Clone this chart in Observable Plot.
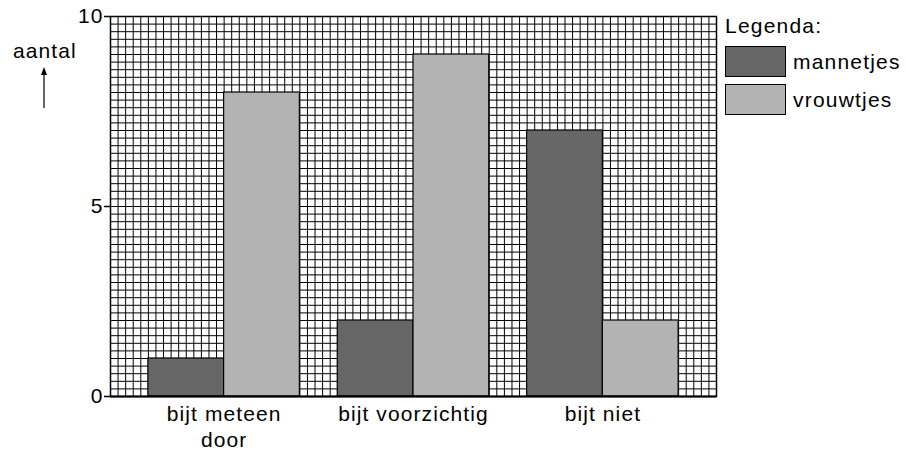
<!DOCTYPE html>
<html>
<head>
<meta charset="utf-8">
<script src="https://cdn.jsdelivr.net/npm/d3@7"></script>
<script src="https://cdn.jsdelivr.net/npm/@observablehq/plot@0.6"></script>
<style>
  html, body { margin: 0; padding: 0; background: #fff; }
  #wrap { position: relative; width: 906px; height: 451px; font-family: "Liberation Sans", Arial, Helvetica, sans-serif; color: #000; }
  #chart { position: absolute; left: 0; top: 0; }
  #chart svg text { letter-spacing: 1.1px; }
  .ylab { position: absolute; left: 13px; top: 40px; font-size: 21px; line-height: 1; letter-spacing: 1.1px; }
  .arrow { position: absolute; left: 38px; top: 66px; }
  .legend { position: absolute; left: 725px; top: 15px; font-size: 21px; letter-spacing: 1.2px; }
  .legend .title { line-height: 1; margin-bottom: 10px; }
  .legend .item { display: flex; align-items: center; height: 31px; margin-bottom: 7px; }
  .legend .sw { width: 59px; height: 29px; border: 1px solid #000; margin-right: 7px; }
</style>
</head>
<body>
<div id="wrap">
  <div id="chart"></div>
  <div class="ylab">aantal</div>
  <svg class="arrow" width="12" height="44"><path d="M6,42 V6" stroke="#000" stroke-width="1.2"/><path d="M3,9 L6,1 L9,9 Z" fill="#000"/></svg>
  <div class="legend" id="legend"></div>
</div>
<script>
const categories = ["bijt meteen door", "bijt voorzichtig", "bijt niet"];
const categoryLabels = ["bijt meteen\ndoor", "bijt voorzichtig", "bijt niet"];
const sexes = ["mannetjes", "vrouwtjes"];
const mannetjes = [1, 2, 7];
const vrouwtjes = [8, 9, 2];
const yTicks = [0, 5, 10];
const legendTitle = "Legenda:";
const colors = ["#666666", "#b3b3b3"];

const gridCellsX = 80;
const gridCellsY = 50;
const yMax = 10;

const series = [mannetjes, vrouwtjes];
const rows = categories.flatMap((c, i) => sexes.map((s, j) => ({category: c, sex: s, value: series[j][i]})));

const outer = d3.scaleBand().domain(categories).range([0, gridCellsX]).paddingInner(0.2).paddingOuter(0.2);
const inner = d3.scaleBand().domain(sexes).range([0, outer.bandwidth()]);
const labelRows = categories.map((c, i) => ({pos: outer(c) + outer.bandwidth() / 2, label: categoryLabels[i]}));

const chart = Plot.plot({
  width: 906,
  height: 451,
  marginLeft: 110,
  marginRight: 190,
  marginTop: 16,
  marginBottom: 55,
  style: {fontFamily: "'Liberation Sans', Arial, Helvetica, sans-serif", background: "#fff", color: "#000", overflow: "visible"},
  x: {domain: [0, gridCellsX], axis: null},
  y: {domain: [0, yMax], axis: null},
  color: {domain: sexes, range: colors},
  marks: [
    Plot.ruleX(d3.range(0, gridCellsX + 1), {stroke: "#000", strokeWidth: 1}),
    Plot.ruleY(d3.range(0, gridCellsY + 1).map(i => i * yMax / gridCellsY), {stroke: "#000", strokeWidth: 1}),
    Plot.rectY(rows, {
      x1: d => outer(d.category) + inner(d.sex),
      x2: d => outer(d.category) + inner(d.sex) + inner.bandwidth(),
      y1: 0,
      y2: "value",
      fill: "sex",
      stroke: "#000",
      strokeWidth: 1.2
    }),
    Plot.frame({stroke: "#000", strokeWidth: 1.5}),
    Plot.ruleY([0], {stroke: "#000", strokeWidth: 2.2}),
    Plot.axisY(yTicks, {tickSize: 6, tickPadding: 1, fontSize: 21, label: null, strokeWidth: 1.5}),
    Plot.text(labelRows, {x: "pos", y: 0, text: "label", lineAnchor: "top", dy: 6, fontSize: 21, lineHeight: 1.25})
  ]
});
document.getElementById("chart").appendChild(chart);

const legend = document.getElementById("legend");
const t = document.createElement("div");
t.className = "title";
t.textContent = legendTitle;
legend.appendChild(t);
sexes.forEach((s, i) => {
  const item = document.createElement("div");
  item.className = "item";
  const sw = document.createElement("div");
  sw.className = "sw";
  sw.style.background = colors[i];
  const lab = document.createElement("span");
  lab.textContent = s;
  item.appendChild(sw);
  item.appendChild(lab);
  legend.appendChild(item);
});
</script>
</body>
</html>
